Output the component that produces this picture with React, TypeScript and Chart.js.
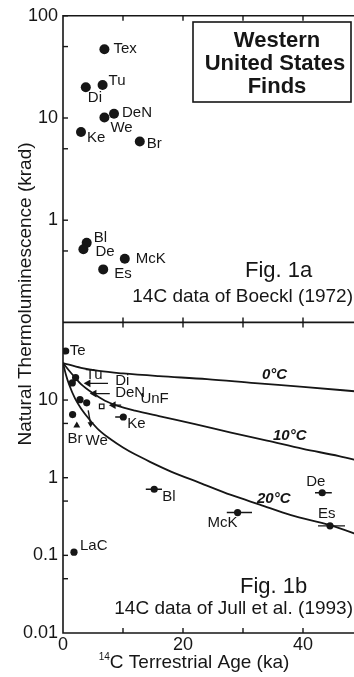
import React, { useEffect, useRef } from 'react';
import { Chart, registerables } from 'chart.js';
Chart.register(...registerables);

// ---------- Fig. 1a : 14C data of Boeckl (1972) ----------
const topNames = ['Tex', 'Tu', 'Di', 'DeN', 'We', 'Ke', 'Br', 'Bl', 'De', 'McK', 'Es'];
const topAge = [6.9, 6.6, 3.8, 8.5, 6.9, 3.0, 12.8, 3.95, 3.4, 10.3, 6.7];
const topTL = [47, 21, 20, 11, 10.1, 7.3, 5.9, 0.6, 0.52, 0.42, 0.33];

// ---------- Fig. 1b : 14C data of Jull et al. (1993) ----------
const botNames = ['Te', 'Tu', '', '', '', 'Br', 'Ke', 'Bl', 'McK', 'De', 'Es', 'LaC'];
const botAge = [0.45, 2.1, 1.55, 2.83, 3.95, 1.6, 10.05, 15.2, 29.1, 43.2, 44.5, 1.83];
const botTL = [42.8, 19.5, 16.6, 10.1, 9.2, 6.5, 6.05, 0.71, 0.356, 0.64, 0.24, 0.11];
const botAgeLo = [null, null, null, null, null, null, 8.7, 13.8, 27.3, 42.0, 42.5, null];
const botAgeHi = [null, null, null, null, null, null, 10.4, 16.5, 31.5, 44.8, 47.0, null];

// limits drawn as arrows (pointing to younger age)
const arrowNames = ['Di', 'DeN', 'UnF'];
const arrowTipAge = [4.2, 5.2, 8.4];
const arrowTailAge = [7.5, 7.8, 9.7];
const arrowTL = [16.4, 12.1, 8.6];

// open square
const squareAge = [6.45];
const squareTL = [8.3];
// Br upward triangle
const brTriAge = [2.3];
const brTriTL = [4.7];
// We downward arrow
const weArrowAge = [4.2, 4.6];
const weArrowTL = [7.35, 4.9];

// model curves (storage temperature)
const c0Age = [0, 3, 6, 10, 16, 24, 32, 40, 50];
const c0TL = [30, 26, 23.7, 22, 20.3, 18.6, 16.5, 14.8, 12.7];
const c10Age = [0, 1, 2, 3, 5, 7, 9, 12, 16, 22, 28, 34, 40, 46, 50];
const c10TL = [30, 24, 19.5, 16, 12.2, 9.8, 8.5, 7.3, 6.2, 4.9, 3.8, 3.0, 2.35, 1.9, 1.6];
const c20Age = [0, 0.5, 1, 2, 3, 4.5, 6, 8, 10, 12, 14.5, 18, 22.8, 28, 32.8, 38, 44.5, 50];
const c20TL = [30, 21, 16, 10.5, 7.8, 5.5, 4.1, 3.1, 2.45, 2.0, 1.6, 1.2, 0.86, 0.6, 0.45, 0.33, 0.245, 0.175];

// ticks
const xLabelTicks = [0, 20, 40];
const xMarkTicks = [10, 20, 30, 40];
const yTopLabels = [100, 10, 1];
const yTopMarks = [100, 50, 10, 5, 1, 0.5];
const yBotLabels = [10, 1, 0.1, 0.01];
const yBotMarks = [10, 5, 1, 0.5, 0.1, 0.05];

// label offsets (px) relative to each point: [dx, dy]
const topLabelOff = [[9, 0], [6, -4], [2, 11], [8, -1], [6, 10], [6, 6], [7, 2], [7, -5], [12, 3], [11, 0], [11, 4]];
const botLabelOff = [[4, 0], [10, -3], [0, 0], [0, 0], [0, 0], [-5, 24], [4, 7], [8, 8], [0, 10], [-16, -11], [-12, -12], [6, -6]];
const botLabelAlign = ['left', 'left', 'left', 'left', 'left', 'left', 'left', 'left', 'right', 'left', 'left', 'left'];
const arrowLabelOff = [[27, -3], [21, -1], [27, -6]];

const INK = '#161616';
const FONT = '"Liberation Sans", Arial, Helvetica, sans-serif';

const pts = (xs: number[], ys: number[]) => xs.map((x, i) => ({ x, y: ys[i] }));

export default function App() {
  const ref = useRef<HTMLCanvasElement>(null);
  useEffect(() => {
    const canvas = ref.current!;
    const curve = (xs: number[], ys: number[]) => ({
      type: 'line' as const,
      data: pts(xs, ys),
      yAxisID: 'yBot',
      borderColor: INK,
      borderWidth: 1.8,
      pointRadius: 0,
      cubicInterpolationMode: 'monotone' as const,
      fill: false,
    });
    const seg = (x1: number, x2: number, y1: number, y2: number) => ({
      type: 'line' as const,
      data: [{ x: x1, y: y1 }, { x: x2, y: y2 }],
      yAxisID: 'yBot',
      borderColor: INK,
      borderWidth: 1.4,
      pointRadius: 0,
      fill: false,
    });
    const datasets: any[] = [
      curve(c0Age, c0TL),
      curve(c10Age, c10TL),
      curve(c20Age, c20TL),
    ];
    botAge.forEach((_, i) => {
      if (botAgeLo[i] != null) datasets.push(seg(botAgeLo[i] as number, botAgeHi[i] as number, botTL[i], botTL[i]));
    });
    arrowTipAge.forEach((a, i) => datasets.push(seg(a, arrowTailAge[i], arrowTL[i], arrowTL[i])));
    datasets.push(seg(weArrowAge[0], weArrowAge[1], weArrowTL[0], weArrowTL[1]));
    datasets.push({
      type: 'scatter', data: pts(topAge, topTL), yAxisID: 'yTop',
      pointRadius: 5, backgroundColor: INK, borderColor: INK, borderWidth: 0,
    });
    datasets.push({
      type: 'scatter', data: pts(botAge, botTL), yAxisID: 'yBot',
      pointRadius: 3.6, backgroundColor: INK, borderColor: INK, borderWidth: 0,
    });
    datasets.push({
      type: 'scatter', data: pts(arrowTipAge, arrowTL), yAxisID: 'yBot',
      pointStyle: 'triangle', rotation: -90, pointRadius: 4.5, backgroundColor: INK, borderColor: INK, borderWidth: 0,
    });
    datasets.push({
      type: 'scatter', data: pts(squareAge, squareTL), yAxisID: 'yBot',
      pointStyle: 'rect', pointRadius: 3.2, backgroundColor: '#fff', borderColor: INK, borderWidth: 1.2,
    });
    datasets.push({
      type: 'scatter', data: pts(brTriAge, brTriTL), yAxisID: 'yBot',
      pointStyle: 'triangle', rotation: 0, pointRadius: 4, backgroundColor: INK, borderColor: INK, borderWidth: 0,
    });
    datasets.push({
      type: 'scatter', data: [{ x: weArrowAge[1], y: weArrowTL[1] }], yAxisID: 'yBot',
      pointStyle: 'triangle', rotation: 180, pointRadius: 3.5, backgroundColor: INK, borderColor: INK, borderWidth: 0,
    });

    const tickFont = { family: FONT, size: 18 };

    const annot = {
      id: 'annot',
      afterDraw(chart: any) {
        const ctx = chart.ctx as CanvasRenderingContext2D;
        const xs = chart.scales.x, yT = chart.scales.yTop, yB = chart.scales.yBot;
        const ca = chart.chartArea;
        const L = ca.left, R = ca.right;
        ctx.save();
        ctx.strokeStyle = INK;
        ctx.fillStyle = INK;
        ctx.lineWidth = 1.6;
        ctx.beginPath();
        ctx.rect(L, yT.top, R - L, yT.bottom - yT.top);
        ctx.rect(L, yB.top, R - L, yB.bottom - yB.top);
        ctx.stroke();
        const tk = 5;
        const line = (a: number, b: number, c: number, d: number) => {
          ctx.beginPath(); ctx.moveTo(a, b); ctx.lineTo(c, d); ctx.stroke();
        };
        ctx.lineWidth = 1.4;
        for (const v of xMarkTicks) {
          const px = xs.getPixelForValue(v);
          line(px, yT.top, px, yT.top + tk);
          line(px, yT.bottom - tk, px, yT.bottom + tk);
          line(px, yB.bottom, px, yB.bottom - tk);
        }
        for (const v of yTopMarks) {
          const py = yT.getPixelForValue(v);
          line(L, py, L + tk, py);
        }
        for (const v of yBotMarks) {
          const py = yB.getPixelForValue(v);
          line(L, py, L + tk, py);
        }

        // point labels
        ctx.textBaseline = 'middle';
        ctx.font = `15px ${FONT}`;
        topNames.forEach((n, i) => {
          const px = xs.getPixelForValue(topAge[i]);
          const py = yT.getPixelForValue(topTL[i]);
          ctx.textAlign = 'left';
          ctx.fillText(n, px + topLabelOff[i][0], py + topLabelOff[i][1]);
        });
        botNames.forEach((n, i) => {
          if (!n) return;
          const px = xs.getPixelForValue(botAge[i]);
          const py = yB.getPixelForValue(botTL[i]);
          ctx.textAlign = botLabelAlign[i] as CanvasTextAlign;
          ctx.fillText(n, px + botLabelOff[i][0], py + botLabelOff[i][1]);
        });
        arrowNames.forEach((n, i) => {
          const px = xs.getPixelForValue(arrowTipAge[i]);
          const py = yB.getPixelForValue(arrowTL[i]);
          ctx.textAlign = 'left';
          ctx.fillText(n, px + arrowLabelOff[i][0], py + arrowLabelOff[i][1]);
        });
        {
          const px = xs.getPixelForValue(weArrowAge[1]);
          const py = yB.getPixelForValue(weArrowTL[1]);
          ctx.textAlign = 'left';
          ctx.fillText('We', px - 5, py + 17);
        }

        // curve labels
        ctx.font = `italic bold 15px ${FONT}`;
        ctx.textAlign = 'left';
        ctx.textBaseline = 'alphabetic';
        ctx.fillText('0°C', 262, 379);
        ctx.fillText('10°C', 273, 440);
        ctx.fillText('20°C', 257, 503);

        // figure captions
        ctx.font = `22px ${FONT}`;
        ctx.fillText('Fig. 1a', 245, 277);
        ctx.fillText('Fig. 1b', 240, 593);
        ctx.font = `19px ${FONT}`;
        ctx.textAlign = 'right';
        ctx.fillText('14C data of Boeckl (1972)', 353, 302);
        ctx.fillText('14C data of Jull et al. (1993)', 353, 614);

        // title box
        ctx.lineWidth = 1.6;
        ctx.strokeRect(193, 22, 158, 80);
        ctx.font = `bold 22px ${FONT}`;
        ctx.textAlign = 'center';
        ctx.fillText('Western', 277, 47);
        ctx.fillText('United States', 275, 70);
        ctx.fillText('Finds', 277, 93);

        // y title
        ctx.save();
        ctx.translate(31, 294);
        ctx.rotate(-Math.PI / 2);
        ctx.font = `19px ${FONT}`;
        ctx.textAlign = 'center';
        ctx.fillText('Natural Thermoluminescence (krad)', 0, 0);
        ctx.restore();

        // x title with superscript
        ctx.textAlign = 'left';
        ctx.font = `10px ${FONT}`;
        const w1 = ctx.measureText('14').width;
        ctx.font = `19px ${FONT}`;
        const main = 'C Terrestrial Age (ka)';
        const w2 = ctx.measureText(main).width;
        const sx = 194 - (w1 + w2) / 2;
        ctx.fillText(main, sx + w1, 668);
        ctx.font = `10px ${FONT}`;
        ctx.fillText('14', sx, 660);
        ctx.restore();
      },
    };

    const chart = new Chart(canvas, {
      type: 'scatter',
      data: { datasets },
      options: {
        responsive: false,
        animation: false,
        events: [],
        devicePixelRatio: 1,
        layout: { padding: { top: 15, right: 9, bottom: 0, left: 0 } },
        plugins: { legend: { display: false }, tooltip: { enabled: false } },
        scales: {
          x: {
            type: 'linear', position: 'bottom', min: 0, max: 50,
            grid: { display: false, drawTicks: false }, border: { display: false },
            ticks: { font: tickFont, color: INK, padding: 1, maxRotation: 0, autoSkip: false },
            afterBuildTicks: (s: any) => { s.ticks = xLabelTicks.map((v) => ({ value: v })); },
            afterFit: (s: any) => { s.height = 44; },
          },
          yBot: {
            type: 'logarithmic', position: 'left', stack: 'tl', stackWeight: 311,
            min: 0.01, max: 100, offset: false,
            grid: { display: false, drawTicks: false }, border: { display: false },
            ticks: { font: tickFont, color: INK, padding: 5, autoSkip: false, callback: (v: any) => String(v) },
            afterBuildTicks: (s: any) => { s.ticks = yBotLabels.map((v) => ({ value: v })); },
            afterFit: (s: any) => { s.width = 63; },
          },
          yTop: {
            type: 'logarithmic', position: 'left', stack: 'tl', stackWeight: 307,
            min: 0.1, max: 100, offset: false,
            grid: { display: false, drawTicks: false }, border: { display: false },
            ticks: { font: tickFont, color: INK, padding: 5, autoSkip: false, callback: (v: any) => String(v) },
            afterBuildTicks: (s: any) => { s.ticks = yTopLabels.map((v) => ({ value: v })); },
            afterFit: (s: any) => { s.width = 63; },
          },
        } as any,
      },
      plugins: [annot],
    });
    return () => chart.destroy();
  }, []);

  return (
    <div style={{ position: 'absolute', left: 0, top: 0, width: 354, height: 677, overflow: 'hidden', background: '#fff' }}>
      <canvas ref={ref} width={372} height={677} style={{ display: 'block' }} />
    </div>
  );
}
